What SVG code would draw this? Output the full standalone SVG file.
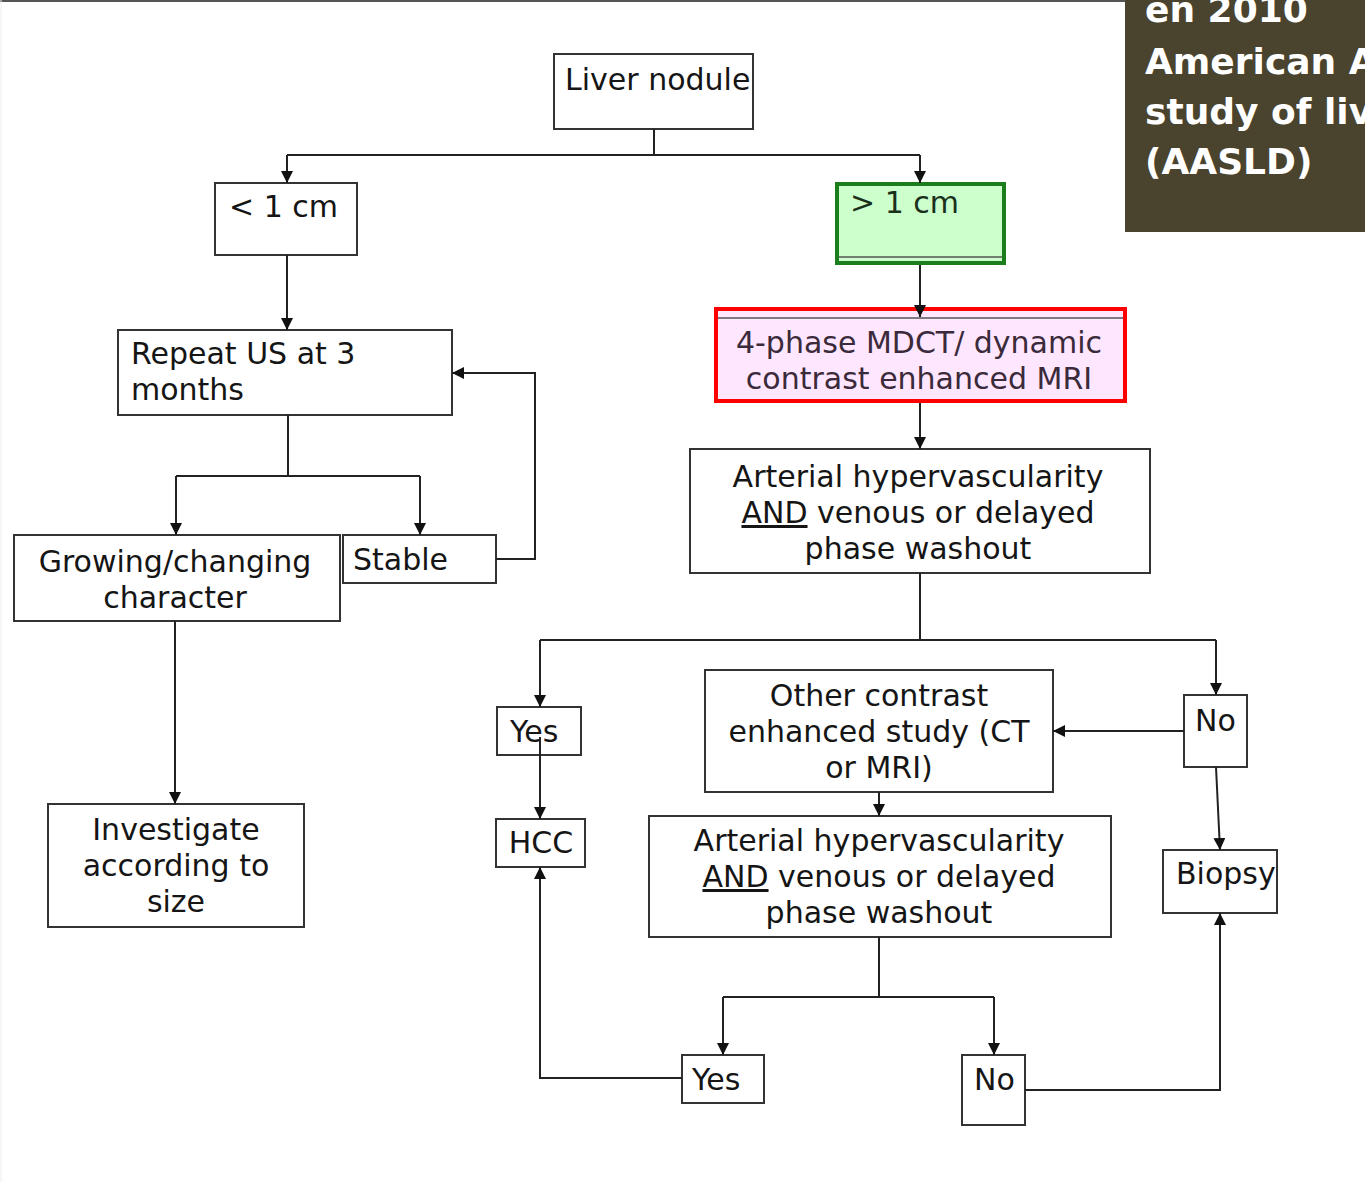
<svg xmlns="http://www.w3.org/2000/svg" width="1365" height="1182" viewBox="0 0 1365 1182">
<defs>
<style>
.box{fill:#fff;stroke:#333;stroke-width:2}
.t{font-family:"DejaVu Sans","Liberation Sans",sans-serif;font-size:30px;fill:#151515}
.c{text-anchor:middle}
.ln{fill:none;stroke:#222;stroke-width:2}
.ttl{font-family:"DejaVu Sans","Liberation Sans",sans-serif;font-weight:bold;font-size:36px;fill:#fff}
</style>
<marker id="ah" viewBox="0 0 10 10" refX="10" refY="5" markerWidth="6" markerHeight="6" orient="auto" markerUnits="strokeWidth">
<path d="M0,0 L10,5 L0,10 z" fill="#111"/>
</marker>
</defs>
<rect width="1365" height="1182" fill="#fff"/>
<line x1="0" y1="1" x2="1125" y2="1" stroke="#555" stroke-width="2"/>
<line x1="1" y1="0" x2="1" y2="1182" stroke="#eee" stroke-width="1"/>

<g id="title">
<rect x="1125" y="0" width="240" height="232" fill="#4a432e"/>
<text class="ttl" x="1145" y="22">en 2010</text>
<text class="ttl" x="1145" y="74">American A</text>
<text class="ttl" x="1145" y="124">study of liv</text>
<text class="ttl" x="1145" y="174">(AASLD)</text>
</g>

<g id="liver-nodule">
<rect class="box" x="554" y="54" width="199" height="75"/>
<text class="t" x="565" y="90">Liver nodule</text>
</g>

<g id="lt1cm">
<rect class="box" x="215" y="183" width="142" height="72"/>
<text class="t" x="229" y="217">&lt; 1 cm</text>
</g>

<g id="gt1cm">
<rect x="837" y="184" width="167" height="79" fill="#ccffcc" stroke="#1b7d1b" stroke-width="4"/>
<line x1="839" y1="257" x2="1002" y2="257" stroke="#555" stroke-width="1.5"/>
<text class="t" x="850" y="213" style="fill:#1a301a">&gt; 1 cm</text>
</g>

<g id="mdct">
<rect x="716" y="309" width="409" height="92" fill="#ffe6ff" stroke="#f00" stroke-width="4"/>
<line x1="718" y1="318" x2="1123" y2="318" stroke="#555" stroke-width="1.5"/>
<text class="t c" x="919" y="353" style="fill:#3a2a3a">4-phase MDCT/ dynamic</text>
<text class="t c" x="919" y="389" style="fill:#3a2a3a">contrast enhanced MRI</text>
</g>

<g id="arterial1">
<rect class="box" x="690" y="449" width="460" height="124"/>
<text class="t c" x="918" y="487">Arterial hypervascularity</text>
<text class="t c" x="918" y="523"><tspan text-decoration="underline">AND</tspan> venous or delayed</text>
<text class="t c" x="918" y="559">phase washout</text>
</g>

<g id="repeat-us">
<rect class="box" x="118" y="330" width="334" height="85"/>
<text class="t" x="131" y="364">Repeat US at 3</text>
<text class="t" x="131" y="400">months</text>
</g>

<g id="growing">
<rect class="box" x="14" y="535" width="326" height="86"/>
<text class="t c" x="175" y="572">Growing/changing</text>
<text class="t c" x="175" y="608">character</text>
</g>

<g id="stable">
<rect class="box" x="343" y="535" width="153" height="48"/>
<text class="t" x="353" y="570">Stable</text>
</g>

<g id="investigate">
<rect class="box" x="48" y="804" width="256" height="123"/>
<text class="t c" x="176" y="840">Investigate</text>
<text class="t c" x="176" y="876">according to</text>
<text class="t c" x="176" y="912">size</text>
</g>

<g id="yes1">
<rect class="box" x="497" y="707" width="84" height="48"/>
<text class="t" x="510" y="742">Yes</text>
</g>

<g id="hcc">
<rect class="box" x="496" y="819" width="89" height="48"/>
<text class="t c" x="541" y="853">HCC</text>
</g>

<g id="other-contrast">
<rect class="box" x="705" y="670" width="348" height="122"/>
<text class="t c" x="879" y="706">Other contrast</text>
<text class="t c" x="879" y="742">enhanced study (CT</text>
<text class="t c" x="879" y="778">or MRI)</text>
</g>

<g id="no1">
<rect class="box" x="1184" y="695" width="63" height="72"/>
<text class="t" x="1195" y="731">No</text>
</g>

<g id="arterial2">
<rect class="box" x="649" y="816" width="462" height="121"/>
<text class="t c" x="879" y="851">Arterial hypervascularity</text>
<text class="t c" x="879" y="887"><tspan text-decoration="underline">AND</tspan> venous or delayed</text>
<text class="t c" x="879" y="923">phase washout</text>
</g>

<g id="biopsy">
<rect class="box" x="1163" y="850" width="114" height="63"/>
<text class="t" x="1176" y="884">Biopsy</text>
</g>

<g id="yes2">
<rect class="box" x="682" y="1055" width="82" height="48"/>
<text class="t" x="692" y="1090">Yes</text>
</g>

<g id="no2">
<rect class="box" x="962" y="1055" width="63" height="70"/>
<text class="t" x="974" y="1090">No</text>
</g>

<g id="connectors">
<path class="ln" d="M654,129 V155 M287,155 H920"/>
<path class="ln" d="M287,155 V183" marker-end="url(#ah)"/>
<path class="ln" d="M920,155 V183" marker-end="url(#ah)"/>
<path class="ln" d="M287,255 V330" marker-end="url(#ah)"/>
<path class="ln" d="M920,265 V317" marker-end="url(#ah)"/>
<path class="ln" d="M288,415 V476 M176,476 H420"/>
<path class="ln" d="M176,476 V535" marker-end="url(#ah)"/>
<path class="ln" d="M420,476 V535" marker-end="url(#ah)"/>
<path class="ln" d="M496,559 H535 V373 H452" marker-end="url(#ah)"/>
<path class="ln" d="M175,621 V804" marker-end="url(#ah)"/>
<path class="ln" d="M920,403 V449" marker-end="url(#ah)"/>
<path class="ln" d="M920,573 V640 M540,640 H1216"/>
<path class="ln" d="M540,640 V707" marker-end="url(#ah)"/>
<path class="ln" d="M1216,640 V695" marker-end="url(#ah)"/>
<path class="ln" d="M540,737 V819" marker-end="url(#ah)"/>
<path class="ln" d="M1184,731 H1053" marker-end="url(#ah)"/>
<path class="ln" d="M1216,767 L1220,850" marker-end="url(#ah)"/>
<path class="ln" d="M879,792 V816" marker-end="url(#ah)"/>
<path class="ln" d="M879,937 V997 M723,997 H994"/>
<path class="ln" d="M723,997 V1055" marker-end="url(#ah)"/>
<path class="ln" d="M994,997 V1055" marker-end="url(#ah)"/>
<path class="ln" d="M682,1078 H540 V867" marker-end="url(#ah)"/>
<path class="ln" d="M1025,1090 H1220 V913" marker-end="url(#ah)"/>
</g>
</svg>
